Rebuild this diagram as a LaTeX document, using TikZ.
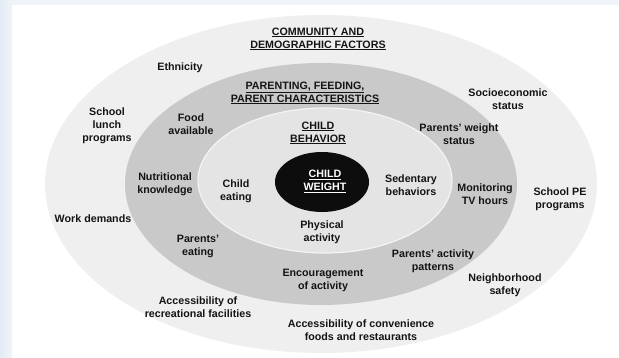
\documentclass[tikz,border=0pt]{standalone}
\usepackage{fontspec}
\setmainfont{Liberation Sans}
\usetikzlibrary{shapes.geometric}
\definecolor{bgblue}{HTML}{E2EBF4}
\definecolor{bgblue2}{HTML}{F0F4F9}
\definecolor{outerc}{HTML}{EFEFEF}
\definecolor{midc}{HTML}{C9C9C9}
\definecolor{innerc}{HTML}{E4E4E4}
\definecolor{txt}{HTML}{141414}
\tikzset{
  lbl/.style={align=center, text=txt, font=\bfseries\fontsize{10.7}{13}\selectfont, inner sep=0pt},
  ttl/.style={lbl}
}
\newcommand{\ul}[1]{\underline{#1}}
\begin{document}
\begin{tikzpicture}[x=1pt,y=1pt]
\useasboundingbox (0,0) rectangle (619,358);
% background
\fill[white] (0,0) rectangle (619,358);
\fill[bgblue2] (0,353) rectangle (619,358);
\shade[left color=bgblue, right color=bgblue2] (0,0) rectangle (12,358);
% ellipses
\fill[outerc] (321,174) ellipse [x radius=276, y radius=169];
\fill[midc] (321,174) ellipse [x radius=196, y radius=121];
\draw[innerc!40!white, line width=1.2pt, fill=innerc] (325,177.5) ellipse [x radius=127, y radius=72.5];
\fill[black!95] (322,176) ellipse [x radius=47, y radius=30];
% titles
\node[ttl] (comm) at (318,319) {\ul{COMMUNITY AND}\\\ul{DEMOGRAPHIC FACTORS}};
\node[ttl] (par) at (305,265) {\ul{PARENTING, FEEDING,}\\\ul{PARENT CHARACTERISTICS}};
\node[ttl] (beh) at (318,225) {\ul{CHILD}\\\ul{BEHAVIOR}};
\node[ttl, text=white] (cw) at (325,176.5) {\ul{CHILD}\\\ul{WEIGHT}};
% outer ring labels
\node[lbl] (eth) at (180,290) {Ethnicity};
\node[lbl] (ses) at (508,259) {Socioeconomic\\status};
\node[lbl] (lunch) at (107,232) {School\\lunch\\programs};
\node[lbl] (pe) at (560,159) {School PE\\programs};
\node[lbl] (work) at (93,139) {Work demands};
\node[lbl] (nb) at (505,73) {Neighborhood\\safety};
\node[lbl] (arf) at (198,51) {Accessibility of\\recreational facilities};
\node[lbl] (acf) at (361,28) {Accessibility of convenience\\foods and restaurants};
% middle ring labels
\node[lbl] (food) at (191,234) {Food\\available};
\node[lbl] (pws) at (459,224) {Parents' weight\\status};
\node[lbl] (nut) at (165,174) {Nutritional\\knowledge};
\node[lbl] (tv) at (485,164) {Monitoring\\TV hours};
\node[lbl] (peat) at (198,112) {Parents'\\eating};
\node[lbl] (pap) at (433,97) {Parents' activity\\patterns};
\node[lbl] (enc) at (323,78) {Encouragement\\of activity};
% inner ring labels
\node[lbl] (ce) at (236,167) {Child\\eating};
\node[lbl] (sed) at (411,173) {Sedentary\\behaviors};
\node[lbl] (pa) at (322,126) {Physical\\activity};
\end{tikzpicture}
\end{document}
